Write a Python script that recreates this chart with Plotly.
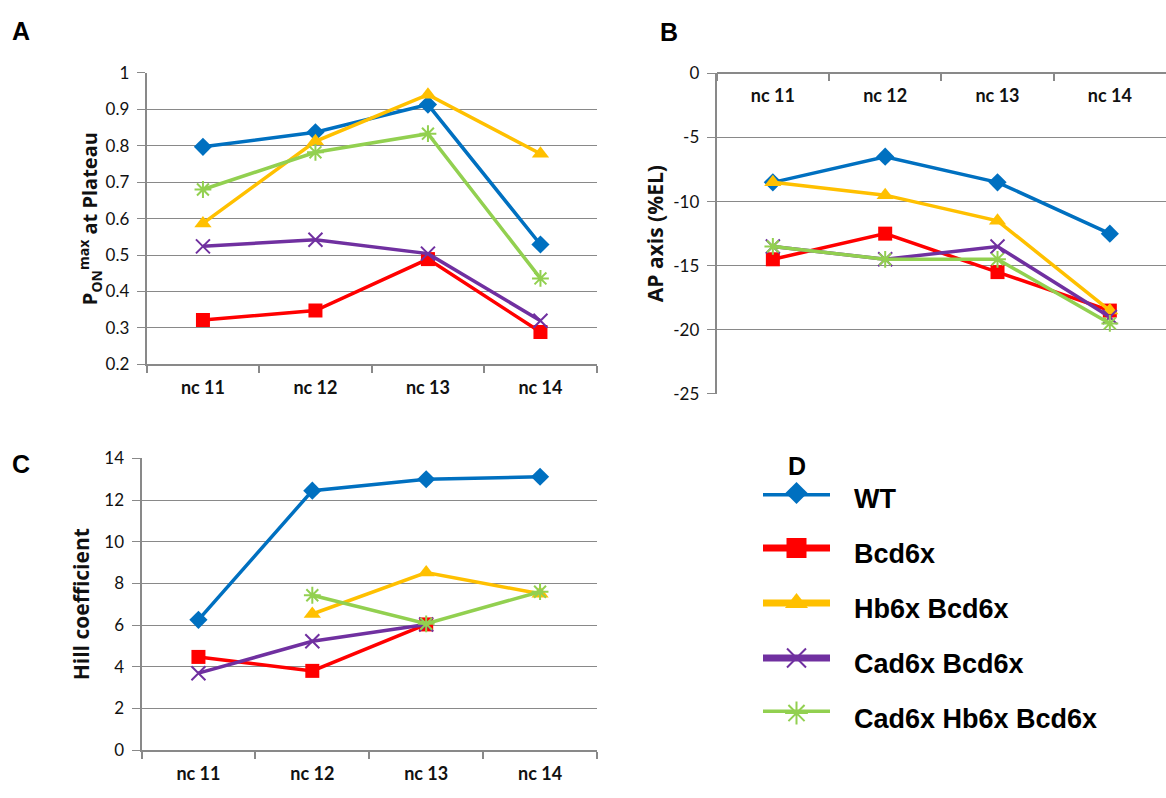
import plotly.graph_objects as go

# Developmental stages (nuclear cycles) on the category axis
stages = ["nc 11", "nc 12", "nc 13", "nc 14"]
series_names = ["WT", "Bcd6x", "Hb6x Bcd6x", "Cad6x Bcd6x", "Cad6x Hb6x Bcd6x"]

# Panel A: maximal ON probability at plateau
pon_wt = [0.797, 0.837, 0.913, 0.529]
pon_bcd = [0.322, 0.348, 0.489, 0.289]
pon_hb_bcd = [0.587, 0.812, 0.940, 0.778]
pon_cad_bcd = [0.524, 0.542, 0.504, 0.320]
pon_cad_hb_bcd = [0.680, 0.782, 0.833, 0.436]

# Panel B: boundary position along the AP axis (%EL)
ap_wt = [-8.5, -6.5, -8.5, -12.5]
ap_bcd = [-14.5, -12.5, -15.5, -18.5]
ap_hb_bcd = [-8.5, -9.5, -11.5, -18.5]
ap_cad_bcd = [-13.5, -14.5, -13.5, -19.0]
ap_cad_hb_bcd = [-13.5, -14.5, -14.5, -19.5]
ap_ticks = [0, -5, -10, -15, -20, -25]
ap_tick_labels = ["0", "-5", "-10", "-15", "-20", "-25"]

# Panel C: Hill coefficient (None = not measured)
hill_wt = [6.25, 12.45, 13.0, 13.12]
hill_bcd = [4.47, 3.8, 6.03, None]
hill_hb_bcd = [None, 6.53, 8.52, 7.5]
hill_cad_bcd = [3.69, 5.22, 6.03, None]
hill_cad_hb_bcd = [None, 7.43, 6.06, 7.6]

panel_a = [pon_wt, pon_bcd, pon_hb_bcd, pon_cad_bcd, pon_cad_hb_bcd]
panel_b = [ap_wt, ap_bcd, ap_hb_bcd, ap_cad_bcd, ap_cad_hb_bcd]
panel_c = [hill_wt, hill_bcd, hill_hb_bcd, hill_cad_bcd, hill_cad_hb_bcd]

colors = ["#0070C0", "#FF0000", "#FFC000", "#7030A0", "#92D050"]
symbols = ["diamond", "square", "triangle-up", "x-thin", "asterisk"]
msizes = [14, 14, 15, 14, 14]
legend_msizes = [17, 20, 20, 19, 19]

W, H = 1166, 798
GRID = "#898989"
TICK_FONT = dict(family="Lato", size=17, color="#111111")
CAT_FONT = dict(family="Lato", size=18, color="#111111", weight="bold")
TITLE_FONT = dict(family="Open Sans", size=20, color="#111111", weight="bold")


def px_x(p):
    return p / W


def px_y(p):
    return 1 - p / H


def marker_for(i, size):
    m = dict(symbol=symbols[i], size=size, color=colors[i])
    if symbols[i] in ("x-thin", "asterisk"):
        m["line"] = dict(color=colors[i], width=2)
    else:
        m["line"] = dict(width=0)
    return m


fig = go.Figure()

for xa, ya, data in (("x", "y", panel_a), ("x2", "y2", panel_b), ("x3", "y3", panel_c)):
    for i, vals in enumerate(data):
        fig.add_trace(go.Scatter(
            x=stages, y=vals, xaxis=xa, yaxis=ya,
            mode="lines+markers", name=series_names[i],
            line=dict(color=colors[i], width=3.5),
            marker=marker_for(i, msizes[i]),
            connectgaps=False, showlegend=False, cliponaxis=False,
        ))

# Legend drawn as sample strokes on a hidden helper axis
for i, name in enumerate(series_names):
    fig.add_trace(go.Scatter(
        x=[0, 1], y=[i, i], xaxis="x4", yaxis="y4", mode="lines",
        line=dict(color=colors[i], width=7), showlegend=False,
        hoverinfo="skip", cliponaxis=False,
    ))
    fig.add_trace(go.Scatter(
        x=[0.5], y=[i], xaxis="x4", yaxis="y4", mode="markers",
        marker=marker_for(i, legend_msizes[i]), showlegend=False,
        hoverinfo="skip", cliponaxis=False,
    ))

cat_axis = dict(
    type="category", range=[-0.5, 3.5], tickson="boundaries",
    ticks="outside", ticklen=7, tickwidth=1.5, tickcolor=GRID,
    showline=True, linecolor=GRID, linewidth=2, showgrid=False,
    zeroline=False, tickfont=CAT_FONT, ticklabelstandoff=6,
)
val_axis = dict(
    showgrid=True, gridcolor=GRID, gridwidth=1.4, zeroline=False,
    showline=True, linecolor=GRID, linewidth=2,
    ticks="outside", ticklen=8, tickwidth=1.4, tickcolor=GRID,
    tickfont=TICK_FONT, ticklabelstandoff=4,
)

fig.update_layout(
    width=W, height=H, autosize=False,
    margin=dict(l=0, r=0, t=0, b=0),
    paper_bgcolor="white", plot_bgcolor="white",
    showlegend=False,
    xaxis=dict(cat_axis, domain=[px_x(146.7), px_x(596.7)], anchor="y"),
    yaxis=dict(val_axis, domain=[px_y(363), px_y(63.5)], anchor="x",
               range=[0.2, 1.0], dtick=0.1,
               title=dict(text="<b>P<sub>ON</sub><sup>max</sup> at Plateau</b>",
                          font=TITLE_FONT, standoff=2)),
    xaxis2=dict(cat_axis, domain=[px_x(716.7), 1.0], anchor="free",
                position=px_y(64)),
    yaxis2=dict(val_axis, domain=[px_y(393.3), px_y(64)], anchor="x2",
                range=[-25, 0], tickvals=ap_ticks, ticktext=ap_tick_labels,
                title=dict(text="<b>AP axis (%EL)</b>",
                           font=dict(TITLE_FONT, size=21), standoff=4)),
    xaxis3=dict(cat_axis, domain=[px_x(141.5), px_x(597)], anchor="y3"),
    yaxis3=dict(val_axis, domain=[px_y(759), px_y(459.5)], anchor="x3",
                range=[0, 14], dtick=2,
                title=dict(text="<b>Hill coefficient</b>",
                           font=dict(TITLE_FONT, size=21), standoff=9)),
    xaxis4=dict(domain=[px_x(763), px_x(830)], range=[0, 1], visible=False,
                anchor="y4"),
    yaxis4=dict(domain=[px_y(721), px_y(495)], range=[4, 0], visible=False,
                anchor="x4"),
)

annotations = []
# Panel letters
for letter, (lx, ly) in zip("ABCD", [(21, 20.5), (669, 22), (20.5, 465), (797, 467)]):
    annotations.append(dict(
        text=f"<b>{letter}</b>", x=px_x(lx), y=px_y(ly), xref="paper", yref="paper",
        showarrow=False, xanchor="center", yanchor="middle",
        font=dict(family="Liberation Sans", size=25, color="black"),
    ))

# Legend labels
for i, name in enumerate(series_names):
    annotations.append(dict(
        text=f"<b>{name}</b>", x=px_x(852), y=i, xref="paper", yref="y4",
        showarrow=False, xanchor="left", yanchor="middle", yshift=-6,
        font=dict(family="Liberation Sans", size=27, color="black"),
    ))

fig.update_layout(annotations=annotations)

fig.write_html("out.html")
